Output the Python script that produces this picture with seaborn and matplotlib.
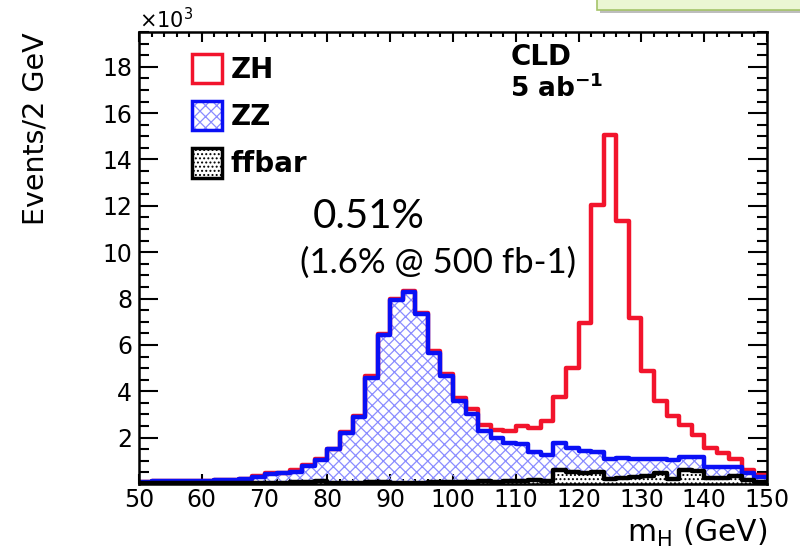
import numpy as np
import pandas as pd
import matplotlib
matplotlib.use("Agg")
import matplotlib.pyplot as plt
import seaborn as sns
from matplotlib.patches import Patch, Rectangle
from matplotlib.ticker import MultipleLocator, FixedLocator

# ---------------- data (thousands of events per 2 GeV bin) ----------------
bin_edges = list(range(50, 152, 2))        # 50 .. 150 GeV, 2 GeV bins
bin_centers = [e + 1.0 for e in bin_edges[:-1]]

ffbar_k = [0.03, 0.03, 0.03, 0.03, 0.03, 0.03, 0.04, 0.04, 0.04, 0.05,
           0.05, 0.06, 0.07, 0.10, 0.12, 0.06, 0.05, 0.06, 0.10, 0.08,
           0.06, 0.06, 0.06, 0.07, 0.07, 0.08, 0.10, 0.12, 0.10, 0.12,
           0.15, 0.17, 0.15, 0.62, 0.52, 0.48, 0.50, 0.22, 0.26, 0.30,
           0.36, 0.46, 0.22, 0.60, 0.58, 0.28, 0.26, 0.36, 0.16, 0.08]
zz_k = [0.07, 0.08, 0.09, 0.10, 0.11, 0.12, 0.13, 0.15, 0.18, 0.27,
        0.40, 0.41, 0.45, 0.69, 0.91, 1.44, 2.17, 2.85, 4.47, 6.33,
        7.86, 8.22, 7.27, 5.58, 4.61, 3.52, 2.94, 2.18, 1.88, 1.66,
        1.57, 1.23, 1.12, 1.16, 1.02, 0.94, 0.90, 0.85, 0.88, 0.77,
        0.74, 0.62, 0.82, 0.55, 0.57, 0.46, 0.48, 0.38, 0.30, 0.24]
zh_k = [0.00, 0.00, 0.00, 0.00, 0.00, 0.00, 0.00, 0.00, 0.00, 0.01,
        0.01, 0.02, 0.10, 0.03, 0.03, 0.03, 0.03, 0.04, 0.08, 0.04,
        0.08, 0.04, 0.05, 0.07, 0.07, 0.12, 0.21, 0.25, 0.36, 0.49,
        0.80, 1.01, 1.43, 1.96, 3.46, 5.52, 10.65, 13.98, 10.22, 6.09,
        3.79, 2.52, 1.88, 1.40, 0.97, 0.80, 0.59, 0.33, 0.14, 0.07]

legend_labels = ["ZH", "ZZ", "ffbar"]
x_ticks = [50, 60, 70, 80, 90, 100, 110, 120, 130, 140, 150]
y_ticks = [2, 4, 6, 8, 10, 12, 14, 16, 18]

# stacked totals (ROOT THStack style)
ff = np.array(ffbar_k)
ff_zz = ff + np.array(zz_k)
total = ff_zz + np.array(zh_k)
df = pd.DataFrame({"mH": bin_centers, "ff": ff, "ff_zz": ff_zz, "total": total})

# ---------------- style ----------------
sns.set_style("ticks")
plt.rcParams["font.family"] = ["DejaVu Sans"]
plt.rcParams["mathtext.fontset"] = "dejavusans"
plt.rcParams["hatch.linewidth"] = 0.9
plt.rcParams["text.color"] = "black"
plt.rcParams["axes.labelcolor"] = "black"
plt.rcParams["xtick.color"] = "black"
plt.rcParams["ytick.color"] = "black"

RED = "#f2142c"
BLUE = "#0a10f5"
HATCH_BLUE = "#8a8cff"
LW = 3.2

fig = plt.figure(figsize=(8.0, 5.53), dpi=100)
ax = fig.add_axes([139 / 800, 69 / 553, 628 / 800, 452 / 553])

common = dict(data=df, x="mH", bins=bin_edges, element="step", ax=ax)

# ZH (top of stack) outline
sns.histplot(weights="total", fill=False, color=RED, linewidth=LW, **common)

# ZZ fill (hatched) + outline
sns.histplot(weights="ff_zz", fill=True, color=BLUE, **common)
coll = ax.collections[-1]
coll.set_alpha(1)
coll.set_facecolor("none")
coll.set_edgecolor(HATCH_BLUE)
coll.set_linewidth(0)
coll.set_hatch("xxx")
sns.histplot(weights="ff_zz", fill=False, color=BLUE, linewidth=LW, **common)

# ffbar fill (dotted) + outline
sns.histplot(weights="ff", fill=True, color="black", **common)
coll = ax.collections[-1]
coll.set_alpha(1)
coll.set_facecolor("white")
coll.set_edgecolor("black")
coll.set_linewidth(0)
coll.set_hatch("....")
sns.histplot(weights="ff", fill=False, color="black", linewidth=LW, **common)

# ---------------- axes ----------------
ax.set_xlim(50, 150)
ax.set_ylim(0, 19.5)
ax.xaxis.set_major_locator(FixedLocator(x_ticks))
ax.xaxis.set_minor_locator(MultipleLocator(2))
ax.yaxis.set_major_locator(FixedLocator(y_ticks))
ax.yaxis.set_minor_locator(MultipleLocator(0.5))
ax.set_xticklabels([str(v) for v in x_ticks])
ax.set_yticklabels([str(v) for v in y_ticks])

for s in ax.spines.values():
    s.set_linewidth(1.8)
    s.set_color("black")
    s.set_visible(True)

ax.tick_params(axis="both", which="both", direction="in", top=True, right=True,
               colors="black", labelcolor="black", width=1.5, labelsize=17)
ax.tick_params(axis="x", which="major", length=7.5, pad=3)
ax.tick_params(axis="x", which="minor", length=3.8)
ax.tick_params(axis="y", which="major", length=13.5, pad=5)
ax.tick_params(axis="y", which="minor", length=7)

ax.set_ylabel("Events/2 GeV", fontsize=20.5, loc="top", color="black")
ax.yaxis.set_label_coords(-0.142, 1.0)
ax.set_xlabel(r"m$_{\mathregular{H}}$ (GeV)", fontsize=21.5, loc="right",
              color="black")
ax.xaxis.set_label_coords(1.0, -0.072)

ax.text(0.0, 1.008, r"$\times$10$^{3}$", transform=ax.transAxes,
        fontsize=15, ha="left", va="baseline")

# ---------------- legend ----------------
h_zh = Patch(facecolor="white", edgecolor=RED, linewidth=2.5)
h_zz = (Patch(facecolor="none", edgecolor=HATCH_BLUE, hatch="xxx", linewidth=0),
        Patch(facecolor="none", edgecolor=BLUE, linewidth=2.5))
h_ff = (Patch(facecolor="white", edgecolor="black", hatch="....", linewidth=0),
        Patch(facecolor="none", edgecolor="black", linewidth=2.5))
leg = ax.legend([h_zh, h_zz, h_ff], legend_labels, loc="upper left",
                bbox_to_anchor=(0.084, 0.952), frameon=False, borderpad=0,
                borderaxespad=0, handlelength=1.1, handleheight=1.25,
                handletextpad=0.3, labelspacing=0.62,
                prop=dict(family="DejaVu Sans", weight="bold", size=20))
for t in leg.get_texts():
    t.set_color("black")

# ---------------- annotations ----------------
ax.text(0.591, 0.927, "CLD", transform=ax.transAxes, fontsize=20,
        fontweight="bold", ha="left", va="baseline")
ax.text(0.591, 0.856, r"5 ab$^{\mathbf{-1}}$", transform=ax.transAxes,
        fontsize=19, fontweight="bold", ha="left", va="baseline")
ax.text(0.277, 0.566, "0.51%", transform=ax.transAxes, fontsize=29,
        family=["Lato", "DejaVu Sans"], ha="left", va="baseline")
ax.text(0.256, 0.467, "(1.6% @ 500 fb-1)", transform=ax.transAxes,
        fontsize=25, family=["Lato", "DejaVu Sans"], ha="left",
        va="baseline")

# green slide box peeking in at the top right
fig.add_artist(Rectangle((600 / 800, 1 - 13 / 553), 0.3, 0.05,
                         transform=fig.transFigure, facecolor="#bdbdbd",
                         edgecolor="none", zorder=0))
fig.add_artist(Rectangle((597 / 800, 1 - 10 / 553), 0.3, 0.05,
                         transform=fig.transFigure, facecolor="#ebf6d3",
                         edgecolor="#a5c46a", linewidth=1.2, zorder=1))

fig.savefig("out.png", dpi=100)
